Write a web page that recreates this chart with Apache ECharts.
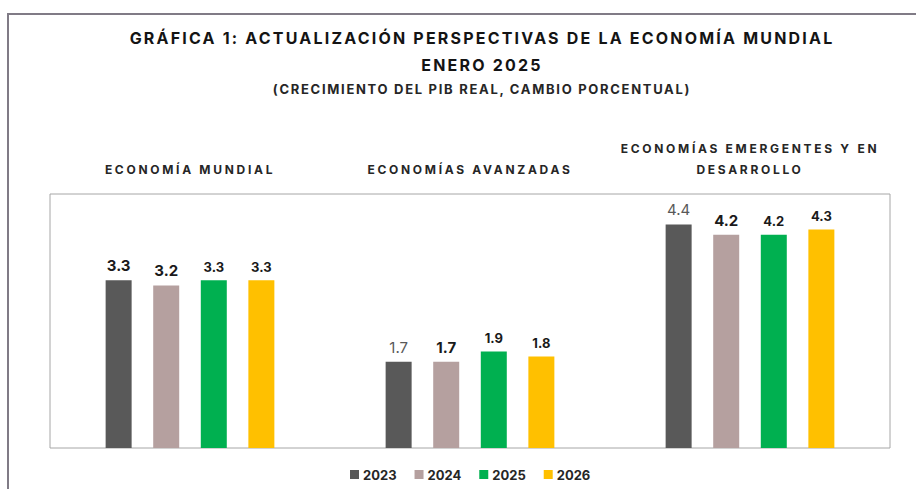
<!DOCTYPE html>
<html>
<head>
<meta charset="utf-8">
<script src="https://cdn.jsdelivr.net/npm/echarts@6/dist/echarts.min.js"></script>
<style>
  html, body { margin: 0; padding: 0; background: #fff; }
  #wrap { position: relative; width: 916px; height: 489px; overflow: hidden; }
  #chart { width: 916px; height: 489px; }
  .frame {
    position: absolute; left: 7px; top: 13px; right: -10px; bottom: -10px;
    border-top: 2px solid #807b86; border-left: 2px solid #807b86;
    pointer-events: none;
  }
  /* spacing for the uppercase headings (svg text) */
  #chart text[style*="sans-serif"] { letter-spacing: 2.2px; }
  #chart text[style*="cursive"] { letter-spacing: 1.7px; }
  #chart text[style*="fantasy"] { letter-spacing: 2.7px; }
</style>
</head>
<body>
<div id="wrap">
  <div id="chart"></div>
  <div class="frame"></div>
</div>
<script>
// categories and values
const categories = ['ECONOMÍA MUNDIAL', 'ECONOMÍAS AVANZADAS', 'ECONOMÍAS EMERGENTES Y EN\nDESARROLLO']
const years = ['2023', '2024', '2025', '2026']
const values2023 = [3.3, 1.7, 4.4]
const values2024 = [3.2, 1.7, 4.2]
const values2025 = [3.3, 1.9, 4.2]
const values2026 = [3.3, 1.8, 4.3]

const seriesValues = [values2023, values2024, values2025, values2026]
const colors = ['#595959', '#b5a09f', '#00b050', '#ffc000']
const labelSizes = [15, 15, 13, 13]
// 2023 labels for advanced / emerging are drawn thin and grey
const thinLabels = [[false, true, true], [], [], []]

const chart = echarts.init(document.getElementById('chart'), null, { renderer: 'svg' })

const series = years.map((year, s) => ({
  name: year,
  type: 'bar',
  barWidth: 26,
  barGap: '83%',
  itemStyle: { color: colors[s] },
  label: {
    show: true,
    position: 'top',
    distance: 7,
    fontFamily: 'Inter',
    fontWeight: 'bold',
    fontSize: labelSizes[s],
    color: '#1a1a1a',
    formatter: p => p.value.toFixed(1)
  },
  data: seriesValues[s].map((v, i) => thinLabels[s][i]
    ? { value: v, label: { fontWeight: 'normal', color: '#595959' } }
    : v)
}))

const option = {
  backgroundColor: '#fff',
  animation: false,
  title: [
    {
      text: 'GRÁFICA 1: ACTUALIZACIÓN PERSPECTIVAS DE LA ECONOMÍA MUNDIAL',
      left: 482, top: 29, padding: 0, textAlign: 'center',
      textStyle: { fontFamily: 'Inter,sans-serif', fontSize: 16, fontWeight: 'bold', color: '#141414', lineHeight: 18 }
    },
    {
      text: 'ENERO 2025',
      left: 482, top: 56, padding: 0, textAlign: 'center',
      textStyle: { fontFamily: 'Inter,sans-serif', fontSize: 16, fontWeight: 'bold', color: '#141414', lineHeight: 18 }
    },
    {
      text: '(CRECIMIENTO DEL PIB REAL, CAMBIO PORCENTUAL)',
      left: 482, top: 82, padding: 0, textAlign: 'center',
      textStyle: { fontFamily: 'Inter,cursive', fontSize: 13, fontWeight: 'bold', color: '#262626', lineHeight: 14 }
    }
  ],
  legend: {
    data: years,
    left: 345,
    top: 463,
    icon: 'rect',
    itemWidth: 9,
    itemHeight: 9,
    itemGap: 18,
    textStyle: { fontFamily: 'Inter', fontSize: 13, fontWeight: 'bold', color: '#262626', padding: [0, 0, 0, -1] }
  },
  grid: {
    left: 50,
    right: 26,
    top: 194,
    bottom: 41,
    show: true,
    borderColor: '#a6a6a6',
    borderWidth: 1
  },
  xAxis: {
    type: 'category',
    position: 'top',
    data: categories,
    axisLine: { show: false },
    axisTick: { show: false },
    axisLabel: {
      interval: 0,
      margin: 14,
      fontFamily: 'Inter,fantasy',
      fontSize: 12,
      fontWeight: 'bold',
      lineHeight: 21,
      color: '#262626'
    }
  },
  yAxis: {
    type: 'value',
    min: 0,
    max: 5,
    show: false,
    splitLine: { show: false }
  },
  series: series
}

chart.setOption(option)
</script>
</body>
</html>
